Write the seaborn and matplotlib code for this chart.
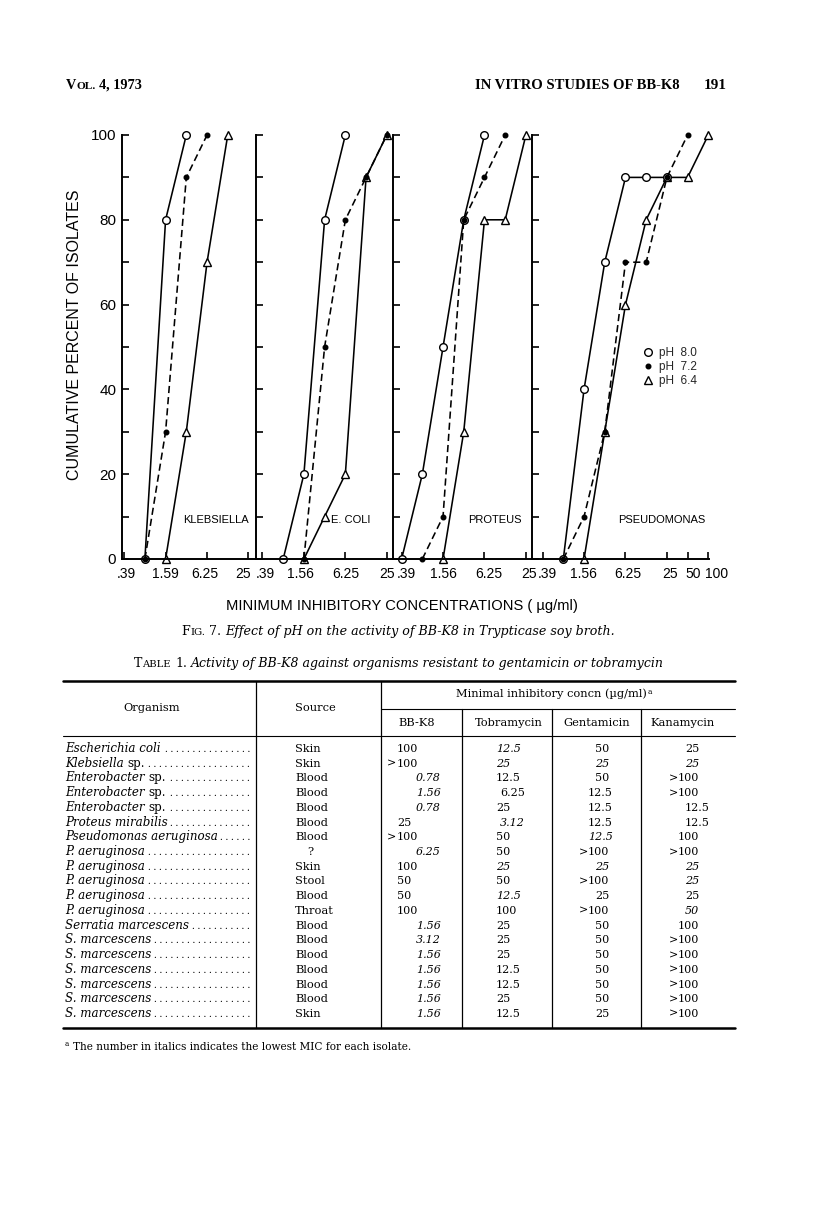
import matplotlib.pyplot as plt
from matplotlib.lines import Line2D
from matplotlib.ticker import NullLocator
from matplotlib.transforms import ScaledTranslation
import seaborn as sns
import pandas as pd

# ---- Fig. 7 data: cumulative percent of isolates vs MIC (ug/ml) ----
panels = ["KLEBSIELLA", "E. COLI", "PROTEUS", "PSEUDOMONAS"]
ph_levels = ["8.0", "7.2", "6.4"]

kleb_mic_80 = [0.78, 1.56, 3.12]
kleb_pct_80 = [0, 80, 100]
kleb_mic_72 = [0.78, 1.56, 3.12, 6.25]
kleb_pct_72 = [0, 30, 90, 100]
kleb_mic_64 = [1.56, 3.12, 6.25, 12.5]
kleb_pct_64 = [0, 30, 70, 100]

coli_mic_80 = [0.78, 1.56, 3.12, 6.25]
coli_pct_80 = [0, 20, 80, 100]
coli_mic_72 = [1.56, 3.12, 6.25, 12.5, 25]
coli_pct_72 = [0, 50, 80, 90, 100]
coli_mic_64 = [1.56, 3.12, 6.25, 12.5, 25]
coli_pct_64 = [0, 10, 20, 90, 100]

prot_mic_80 = [0.39, 0.78, 1.56, 3.12, 6.25]
prot_pct_80 = [0, 20, 50, 80, 100]
prot_mic_72 = [0.78, 1.56, 3.12, 6.25, 12.5]
prot_pct_72 = [0, 10, 80, 90, 100]
prot_mic_64 = [1.56, 3.12, 6.25, 12.5, 25]
prot_pct_64 = [0, 30, 80, 80, 100]

pseu_mic_80 = [0.78, 1.56, 3.12, 6.25, 12.5, 25]
pseu_pct_80 = [0, 40, 70, 90, 90, 90]
pseu_mic_72 = [0.78, 1.56, 3.12, 6.25, 12.5, 25, 50]
pseu_pct_72 = [0, 10, 30, 70, 70, 90, 100]
pseu_mic_64 = [1.56, 3.12, 6.25, 12.5, 25, 50, 100]
pseu_pct_64 = [0, 30, 60, 80, 90, 90, 100]

mic_ticks = [0.39, 1.56, 6.25, 25]
mic_ticks_last = [0.39, 1.56, 6.25, 25, 50, 100]
tick_labels_kleb = [".39", "1.59", "6.25", "25"]
tick_labels_mid = [".39", "1.56", "6.25", "25"]
tick_labels_last = [".39", "1.56", "6.25", "25", "50", "100"]
pct_ticks = list(range(0, 101, 10))
pct_labels = ["0", "", "20", "", "40", "", "60", "", "80", "", "100"]

# ---- Table 1 data ----
organisms = ["Escherichia coli", "Klebsiella sp.", "Enterobacter sp.", "Enterobacter sp.",
             "Enterobacter sp.", "Proteus mirabilis", "Pseudomonas aeruginosa",
             "P. aeruginosa", "P. aeruginosa", "P. aeruginosa", "P. aeruginosa",
             "P. aeruginosa", "Serratia marcescens", "S. marcescens", "S. marcescens",
             "S. marcescens", "S. marcescens", "S. marcescens", "S. marcescens"]
sources = ["Skin", "Skin", "Blood", "Blood", "Blood", "Blood", "Blood", "?", "Skin",
           "Stool", "Blood", "Throat", "Blood", "Blood", "Blood", "Blood", "Blood",
           "Blood", "Skin"]
bbk8 = ["100", ">100", "0.78", "1.56", "0.78", "25", ">100", "6.25", "100", "50", "50",
        "100", "1.56", "3.12", "1.56", "1.56", "1.56", "1.56", "1.56"]
tobramycin = ["12.5", "25", "12.5", "6.25", "25", "3.12", "50", "50", "25", "50", "12.5",
              "100", "25", "25", "25", "12.5", "12.5", "25", "12.5"]
gentamicin = ["50", "25", "50", "12.5", "12.5", "12.5", "12.5", ">100", "25", ">100",
              "25", ">100", "50", "50", "50", "50", "50", "50", "25"]
kanamycin = ["25", "25", ">100", ">100", "12.5", "12.5", "100", ">100", "25", "25", "25",
             "50", "100", ">100", ">100", ">100", ">100", ">100", ">100"]

series = {
    ("KLEBSIELLA", "8.0"): (kleb_mic_80, kleb_pct_80),
    ("KLEBSIELLA", "7.2"): (kleb_mic_72, kleb_pct_72),
    ("KLEBSIELLA", "6.4"): (kleb_mic_64, kleb_pct_64),
    ("E. COLI", "8.0"): (coli_mic_80, coli_pct_80),
    ("E. COLI", "7.2"): (coli_mic_72, coli_pct_72),
    ("E. COLI", "6.4"): (coli_mic_64, coli_pct_64),
    ("PROTEUS", "8.0"): (prot_mic_80, prot_pct_80),
    ("PROTEUS", "7.2"): (prot_mic_72, prot_pct_72),
    ("PROTEUS", "6.4"): (prot_mic_64, prot_pct_64),
    ("PSEUDOMONAS", "8.0"): (pseu_mic_80, pseu_pct_80),
    ("PSEUDOMONAS", "7.2"): (pseu_mic_72, pseu_pct_72),
    ("PSEUDOMONAS", "6.4"): (pseu_mic_64, pseu_pct_64),
}
records = []
for (panel, ph), (mics, pcts) in series.items():
    for m, p in zip(mics, pcts):
        records.append({"panel": panel, "ph": ph, "mic": m, "pct": p})
df = pd.DataFrame(records)

sns.set_theme(style="ticks")
plt.rcParams["font.family"] = ["Liberation Sans", "DejaVu Sans"]
SERIF = ["DejaVu Serif", "Liberation Serif"]
TIMES = ["Liberation Serif", "DejaVu Serif"]

W, H = 816, 1226


def fx(px):
    return px / W


def fy(py):
    return 1 - py / H


fig = plt.figure(figsize=(8.16, 12.26), dpi=100)
fig.patch.set_facecolor("white")

# panel extents in doublings relative to 0.39
xspan = [(-0.12, 6.35), (-0.33, 6.29), (-0.43, 6.31), (-0.50, 8.05)]
gs = fig.add_gridspec(1, 4, width_ratios=[r - l for l, r in xspan],
                      left=fx(121.7), right=fx(709.3), bottom=fy(559), top=fy(135),
                      wspace=0)
axes = [fig.add_subplot(gs[0, i]) for i in range(4)]

line_styles = {
    "8.0": dict(marker="o", mfc="white", ms=5.5, ls="-"),
    "7.2": dict(marker="o", mfc="black", ms=3.3, ls=(0, (4.5, 2.5))),
    "6.4": dict(marker="^", mfc="white", ms=5.5, ls="-"),
}
# small nudges of the tick labels (px), as set on the original artwork
label_nudge = [[2, 0, -2, -5], [3, -3, 0, 0], [5, 0, 4, 3], [5, -1, 2, 3, 6, 8]]

for i, (ax, panel) in enumerate(zip(axes, panels)):
    ax.set_facecolor("white")
    ax.set_xscale("log", base=2)
    for ph in ["6.4", "8.0", "7.2"]:
        sub = df[(df.panel == panel) & (df.ph == ph)]
        sns.lineplot(data=sub, x="mic", y="pct", ax=ax, color="black", lw=1.15,
                     mec="black", mew=1.0, clip_on=False, sort=False, estimator=None,
                     legend=False, **line_styles[ph])
    l, r = xspan[i]
    ax.set_xlim(0.39 * 2 ** l, 0.39 * 2 ** r)
    ax.set_ylim(0, 100)
    if i == 3:
        ax.set_xticks(mic_ticks_last)
        ax.set_xticklabels(tick_labels_last)
    else:
        ax.set_xticks(mic_ticks)
        ax.set_xticklabels(tick_labels_kleb if i == 0 else tick_labels_mid)
    ax.xaxis.set_minor_locator(NullLocator())
    ax.set_yticks(pct_ticks)
    ax.yaxis.set_ticks_position("left")
    ax.xaxis.set_ticks_position("bottom")
    if i == 0:
        ax.set_yticklabels(pct_labels)
    else:
        ax.tick_params(axis="y", labelleft=False)
    ax.tick_params(axis="both", direction="in", length=5, width=1.2, color="black",
                   labelcolor="black")
    ax.tick_params(axis="x", pad=6, labelsize=10)
    ax.tick_params(axis="y", pad=4, labelsize=11)
    for lbl, dx in zip(ax.get_xticklabels(), label_nudge[i]):
        lbl.set_transform(lbl.get_transform() + ScaledTranslation(dx / 100, 0, fig.dpi_scale_trans))
    ax.set_xlabel("")
    ax.set_ylabel("")
    ax.grid(False)
    for side in ["top", "right"]:
        ax.spines[side].set_visible(False)
    for side in ["left", "bottom"]:
        ax.spines[side].set_linewidth(1.4)
        ax.spines[side].set_color("black")

label_pos = [0.70, 0.69, 0.73, 0.73]
for ax, panel, xp in zip(axes, panels, label_pos):
    ax.text(xp, 0.092, panel, transform=ax.transAxes, ha="center", va="center",
            fontsize=8, color="black")

axes[0].set_ylabel("CUMULATIVE PERCENT OF ISOLATES", fontsize=11.5, color="black")
axes[0].yaxis.set_label_coords(-0.30, 0.53)

handles = [Line2D([], [], color="black", linestyle="None", mec="black",
                  **{k: v for k, v in line_styles[ph].items() if k != "ls"})
           for ph in ph_levels]
axes[3].legend(handles, ["pH  " + ph for ph in ph_levels], loc="upper left",
               bbox_to_anchor=(0.60, 0.513), frameon=False, fontsize=8.5,
               handlelength=0.6, handletextpad=0.6, labelspacing=0.15, borderpad=0)

fig.text(fx(402), fy(606), "MINIMUM INHIBITORY CONCENTRATIONS ( \u00b5g/ml)",
         ha="center", va="center", fontsize=10.6, color="black")

renderer = fig.canvas.get_renderer()


def text_width(s, style):
    t = fig.text(0, 0, s, **style)
    w = t.get_window_extent(renderer).width
    t.remove()
    return w


def text_runs(x, y, runs, ha="left", **common):
    items = []
    for s, kw in runs:
        style = dict(common)
        style.update(kw)
        dy = style.pop("dy", 0)
        core = s.strip(" ")
        t = fig.text(0, fy(y - dy), core, va="baseline", color="black", **style)
        sp = 0
        if core != s:
            sp = text_width("n n", style) - text_width("nn", style)
        lead = (len(s) - len(s.lstrip(" "))) * sp
        trail = (len(s) - len(s.rstrip(" "))) * sp
        items.append((t, lead, t.get_window_extent(renderer).width, trail))
    total = sum(a + b + c for _, a, b, c in items)
    pos = x if ha == "left" else (x - total / 2 if ha == "center" else x - total)
    for t, lead, w, trail in items:
        pos += lead
        t.set_x(fx(pos))
        pos += w + trail
    return pos


# running head
text_runs(66, 89, [("V", {"fontsize": 10.3}), ("OL.", {"fontsize": 8.2}),
                   (" 4, 1973", {"fontsize": 10.3})], family=TIMES, weight="bold")
text_runs(680, 89, [("IN VITRO STUDIES OF BB-K8", {"fontsize": 10.5})], ha="right",
          family=TIMES, weight="bold")
text_runs(727, 89, [("191", {"fontsize": 11})], ha="right", family=TIMES, weight="bold")

# figure caption
text_runs(398, 635, [("F", {"fontsize": 9.1, "style": "normal"}),
                     ("IG.", {"fontsize": 7.3, "style": "normal"}),
                     (" 7. ", {"fontsize": 9.1, "style": "normal"}),
                     ("Effect of pH on the activity of BB-K8 in Trypticase soy broth.",
                      {"fontsize": 9.1, "style": "italic"})],
          ha="center", family=SERIF)

# table title
text_runs(399, 667, [("T", {"fontsize": 9.0, "style": "normal"}),
                     ("ABLE", {"fontsize": 7.2, "style": "normal"}),
                     (" 1. ", {"fontsize": 9.0, "style": "normal"}),
                     ("Activity of BB-K8 against organisms resistant to gentamicin or tobramycin",
                      {"fontsize": 9.0, "style": "italic"})],
          ha="center", family=SERIF)


def hline(x0, x1, y, lw):
    fig.add_artist(Line2D([fx(x0), fx(x1)], [fy(y), fy(y)], color="black", lw=lw))


def vline(x, y0, y1, lw=0.9):
    fig.add_artist(Line2D([fx(x), fx(x)], [fy(y0), fy(y1)], color="black", lw=lw))


tab_left, tab_right = 63, 735
hline(tab_left, tab_right, 681, 1.8)
hline(381, tab_right, 709, 0.8)
hline(tab_left, tab_right, 736, 0.8)
hline(tab_left, tab_right, 1028, 1.8)
vline(256, 681, 1028)
vline(381, 681, 1028)
vline(462, 709, 1028)
vline(552, 709, 1028)
vline(641, 709, 1028)

HS = 8.2
text_runs(152, 711, [("Organism", {})], ha="center", family=SERIF, fontsize=HS)
text_runs(315, 711, [("Source", {})], ha="center", family=SERIF, fontsize=HS)
text_runs(554, 697, [("Minimal inhibitory concn (\u00b5g/ml)", {}),
                     ("a", {"fontsize": 5.5, "dy": 3.5})], ha="center", family=SERIF, fontsize=HS)
for name, cx in [("BB-K8", 417), ("Tobramycin", 509), ("Gentamicin", 597), ("Kanamycin", 683)]:
    text_runs(cx, 726, [(name, {})], ha="center", family=SERIF, fontsize=HS)


def mic_value(s):
    return 1000.0 if s.startswith(">") else float(s)


# column anchor (px), alignment, extra shift for values below 10 / with a decimal part
num_cols = [(bbk8, 397, "left", 19), (tobramycin, 496, "left", 4),
            (gentamicin, 609, "right", 4), (kanamycin, 699, "right", 11)]
NS, OS = 8.0, 8.6
row_y0, row_step = 752, 14.72
dot_style = dict(family=TIMES, fontsize=8)
dot_pitch = (text_width(" ".join(["."] * 11), dot_style) - text_width(".", dot_style)) / 10
for r in range(len(organisms)):
    y = row_y0 + r * row_step
    name = organisms[r]
    if name.endswith(" sp."):
        runs = [(name[:-4], {"style": "italic"}), (" sp.", {"style": "normal"})]
    else:
        runs = [(name, {"style": "italic"})]
    end = text_runs(65, y, runs, family=SERIF, fontsize=OS)
    n_dots = int((250 - end - 4) / dot_pitch) + 1
    if n_dots > 0:
        fig.text(fx(250), fy(y), " ".join(["."] * n_dots), ha="right", va="baseline",
                 color="black", **dot_style)
    if sources[r] == "?":
        text_runs(310, y, [(sources[r], {})], ha="center", family=SERIF, fontsize=HS)
    else:
        text_runs(295, y, [(sources[r], {})], family=SERIF, fontsize=HS)
    row_vals = [col[r] for col, _, _, _ in num_cols]
    low = min(mic_value(v) for v in row_vals)
    for (col, base, align, dec_shift), v in zip(num_cols, row_vals):
        style = "italic" if mic_value(v) == low else "normal"
        digits = v.lstrip(">")
        if align == "left":
            x = base + (dec_shift if "." in digits and float(digits) < 10 else 0)
            if v.startswith(">"):
                text_runs(x - 1, y, [(">", {})], ha="right", family=SERIF, fontsize=NS)
            text_runs(x, y, [(digits, {"style": style})], family=SERIF, fontsize=NS)
        else:
            x = base + (dec_shift if "." in digits else 0)
            runs = [(">", {})] if v.startswith(">") else []
            runs.append((digits, {"style": style}))
            text_runs(x, y, runs, ha="right", family=SERIF, fontsize=NS)

text_runs(65, 1050, [("a", {"fontsize": 5.2, "dy": 3.5}),
                     (" The number in italics indicates the lowest MIC for each isolate.", {})],
          family=SERIF, fontsize=7.6)

fig.savefig("out.png", dpi=100, facecolor="white")
